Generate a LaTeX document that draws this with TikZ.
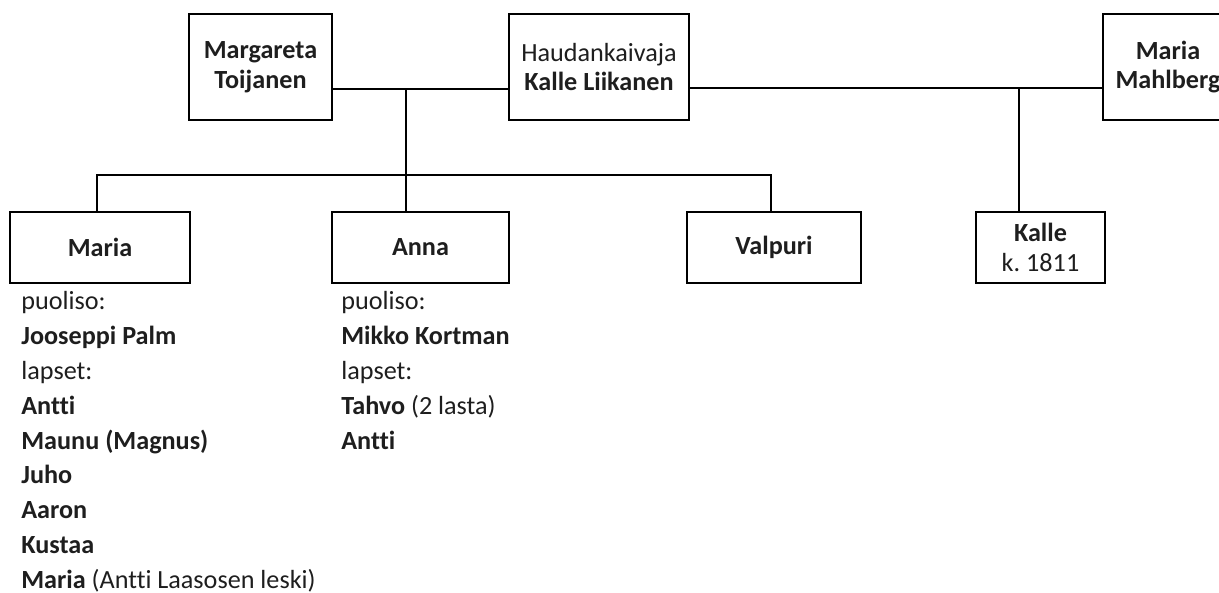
\documentclass[tikz,border=0pt]{standalone}
\usepackage{fontspec}
\setmainfont{Carlito}[Ligatures=NoCommon]
\usepackage{xcolor}
\usetikzlibrary{positioning, calc}

\definecolor{inkgray}{HTML}{1E1E1E}

\tikzset{
    parentbox/.style={draw, line width=1.2pt, inner sep=0pt, align=center, text=inkgray,
        font=\fontsize{14.9}{17}\selectfont, minimum height=21.2mm},
    kidbox/.style={parentbox, minimum height=14.2mm},
    link/.style={line width=0.95pt},
    listline/.style={anchor=base west, inner sep=0pt, text=inkgray,
        font=\fontsize{14.9}{17}\selectfont},
}

\begin{document}
\begin{tikzpicture}[x=0.2mm, y=-0.2mm]
    \useasboundingbox (0,0) rectangle (1219,593);
    \clip (0,0) rectangle (1219,593);

    % parents
    \node[parentbox, minimum width=28.6mm] (mtoijanen) at (260.5,67) {\textbf{Margareta}\\\textbf{Toijanen}};
    \node[parentbox, minimum width=36mm]   (kliikanen) at (599,67)   {Haudankaivaja\\\textbf{Kalle Liikanen}};
    \node[parentbox, minimum width=26mm]   (mmahlberg) at (1168,67)  {\textbf{Maria}\\\textbf{Mahlberg}};

    % children
    \node[kidbox, minimum width=36mm]   (maria)   at (100,247.5)   {\textbf{Maria}};
    \node[kidbox, minimum width=35.4mm] (anna)    at (420.5,247.5) {\textbf{Anna}};
    \node[kidbox, minimum width=34.8mm] (valpuri) at (774,247.5)   {\textbf{Valpuri}};
    \node[kidbox, minimum width=25.8mm] (kalle)   at (1040.5,247.5) {\textbf{Kalle}\\k.~1811};

    % connectors
    \coordinate (mid1) at (406,89);
    \coordinate (sib)  at (406,175);
    \coordinate (mid2) at (1019,88);
    \draw[link] (mtoijanen.east |- mid1) -- (kliikanen.west |- mid1);
    \draw[link] (mid1) -- (mid1 |- anna.north);
    \draw[link] ([xshift=-0.6mm]maria.north) |- (sib) -| ([xshift=-0.6mm]valpuri.north);
    \draw[link] (kliikanen.east |- mid2) -- (mmahlberg.west |- mid2);
    \draw[link] (mid2) -- (mid2 |- kalle.north);

    % notes under the boxes
    \foreach \txt [count=\i from 0] in {puoliso:, \textbf{Jooseppi Palm}, lapset:, \textbf{Antti},
            \textbf{Maunu (Magnus)}, \textbf{Juho}, \textbf{Aaron}, \textbf{Kustaa},
            \textbf{Maria} (Antti Laasosen leski)}
        \node[listline] (marialine\i) at (21,{310+34.8*\i}) {\txt};
    \foreach \txt [count=\i from 0] in {puoliso:, \textbf{Mikko Kortman}, lapset:,
            \textbf{Tahvo} (2 lasta), \textbf{Antti}}
        \node[listline] (annaline\i) at (341,{310+34.8*\i}) {\txt};
\end{tikzpicture}
\end{document}
